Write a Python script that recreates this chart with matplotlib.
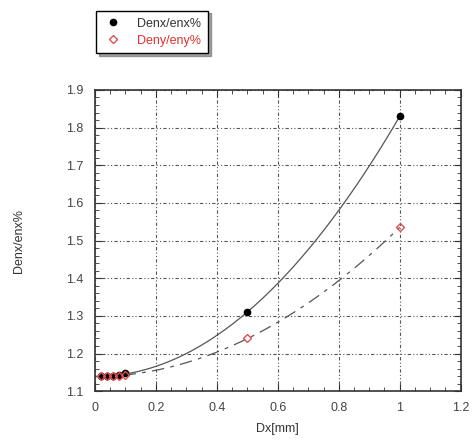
import numpy as np
import matplotlib
matplotlib.use("Agg")
import matplotlib.pyplot as plt
from matplotlib.ticker import MultipleLocator

plt.rcParams['font.family'] = ['Liberation Sans', 'DejaVu Sans']

dx = [0.02, 0.04, 0.06, 0.08, 0.1, 0.5, 1.0]
denx = [1.14, 1.14, 1.14, 1.143, 1.147, 1.31, 1.83]
deny = [1.14, 1.14, 1.14, 1.14, 1.142, 1.24, 1.535]

fig = plt.figure(figsize=(4.74, 4.41), dpi=100)
ax = fig.add_axes([0.2, 0.113, 0.772, 0.683])

# quadratic trend lines fitted to the points
xs = np.linspace(0, 1.0, 200)
px = np.polyfit(dx, denx, 2)
py = np.polyfit(dx, deny, 2)
ax.plot(xs, np.polyval(px, xs), color='#555555', lw=0.9, zorder=2)
ax.plot(xs, np.polyval(py, xs), color='#555555', lw=0.9,
        linestyle=(0, (10, 5, 3, 5)), zorder=2)

h1, = ax.plot(dx, denx, 'o', color='black', ms=4.5, zorder=3, label='Denx/enx%')
h2, = ax.plot(dx, deny, 'D', mfc='none', mec='#e05050', mew=1, ms=4,
              zorder=4, label='Deny/eny%')

ax.set_xlim(0, 1.2)
ax.set_ylim(1.1, 1.9)
ax.xaxis.set_major_locator(MultipleLocator(0.2))
ax.xaxis.set_minor_locator(MultipleLocator(0.05))
ax.yaxis.set_major_locator(MultipleLocator(0.1))
ax.yaxis.set_minor_locator(MultipleLocator(0.02))
ax.set_xticks([0, 0.2, 0.4, 0.6, 0.8, 1.0, 1.2])
ax.set_xticklabels(['0', '0.2', '0.4', '0.6', '0.8', '1', '1.2'])
ax.tick_params(which='both', direction='in', top=True, right=True,
               labelsize=9, labelcolor='#444444', color='#333333')
ax.tick_params(which='major', length=5, pad=8)
ax.tick_params(which='minor', length=3)
ax.grid(True, which='major', linestyle=(0, (1, 2, 1, 2, 3, 2)), color='#555555', lw=0.8)
for s in ax.spines.values():
    s.set_color('#333333')
    s.set_linewidth(1.2)

ax.set_xlabel('Dx[mm]', fontsize=9, color='#333333', labelpad=6)
ax.set_ylabel('Denx/enx%', fontsize=9, color='#333333', labelpad=30)

leg = fig.legend(handles=[h1, h2], loc='upper left',
                 bbox_to_anchor=(0.19, 0.99), fontsize=9, frameon=True,
                 shadow=True, fancybox=False, edgecolor='black',
                 handletextpad=1.2, handlelength=1.5, borderpad=0.55,
                 labelspacing=0.4)
leg.get_frame().set_linewidth(1.0)
leg.get_texts()[0].set_color('#333333')
leg.get_texts()[1].set_color('#e03030')

fig.savefig('out.png', dpi=100)
